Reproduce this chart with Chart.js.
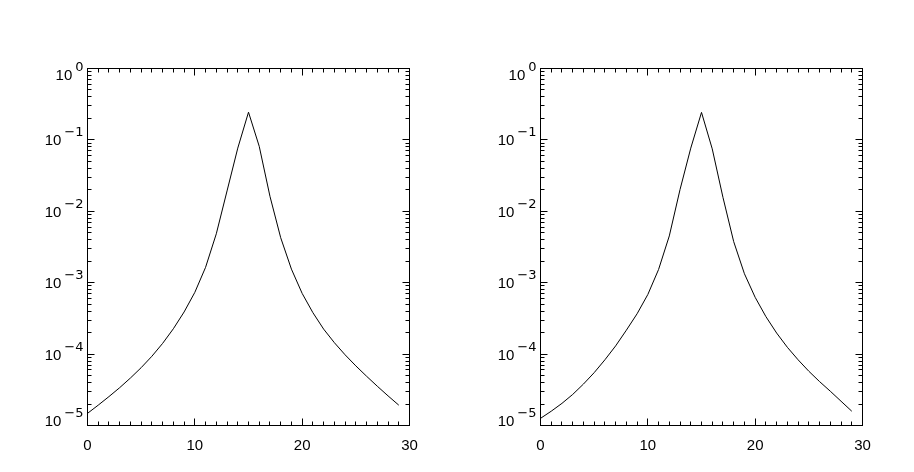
<!DOCTYPE html>
<html>
<head>
<meta charset="utf-8">
<script src="https://cdn.jsdelivr.net/npm/chart.js@4.4.1/dist/chart.umd.min.js"></script>
<style>
  body { margin: 0; background: #fff; }
  #wrap { position: relative; width: 914px; height: 472px; background: #fff; }
  canvas { position: absolute; top: 0; }
  #leftPlot { left: 0; }
  #rightPlot { left: 457px; }
</style>
</head>
<body>
<div id="wrap">
  <canvas id="leftPlot" width="457" height="472"></canvas>
  <canvas id="rightPlot" width="457" height="472"></canvas>
</div>
<script>
// x positions of the samples
const xValues = [0, 1, 2, 3, 4, 5, 6, 7, 8, 9, 10, 11, 12, 13, 14,
                 15, 16, 17, 18, 19, 20, 21, 22, 23, 24, 25, 26, 27, 28, 29];

// values
const leftValues = [1.479e-5, 1.928e-5, 2.541e-5, 3.388e-5, 4.624e-5, 6.457e-5, 9.333e-5, 1.413e-4, 2.265e-4, 3.890e-4,
                    7.328e-4, 1.641e-3, 4.842e-3, 1.928e-2, 7.674e-2, 0.2443, 8.128e-2, 1.622e-2, 4.266e-3, 1.549e-3,
                    7.079e-4, 3.802e-4, 2.239e-4, 1.445e-4, 9.772e-5, 6.839e-5, 4.898e-5, 3.548e-5, 2.600e-5, 1.928e-5];

// values
const rightValues = [1.259e-5, 1.585e-5, 2.042e-5, 2.723e-5, 3.802e-5, 5.495e-5, 8.318e-5, 1.303e-4, 2.163e-4, 3.673e-4,
                     6.839e-4, 1.531e-3, 4.519e-3, 2.018e-2, 7.674e-2, 0.2427, 7.499e-2, 1.567e-2, 3.758e-3, 1.334e-3,
                     6.237e-4, 3.350e-4, 1.972e-4, 1.245e-4, 8.318e-5, 5.754e-5, 4.121e-5, 3.020e-5, 2.188e-5, 1.585e-5];

// axis ticks
const xTickLabels = [0, 10, 20, 30];
const yDecades = [0, -1, -2, -3, -4, -5];

const BASE_FONT = '15px "Liberation Sans", Arial, sans-serif';
const EXP_FONT = '13px "DejaVu Sans", sans-serif';

// IDL style box: inward ticks on all four sides, 10^n labels
const idlAxes = {
    id: 'idlAxes',
    afterDraw(chart) {
        const c = chart.ctx;
        const area = chart.chartArea;
        const xs = chart.scales.x;
        const ys = chart.scales.y;
        c.save();
        c.strokeStyle = '#000';
        c.fillStyle = '#000';
        c.lineWidth = 1;

        // box
        c.strokeRect(area.left, area.top, area.right - area.left, area.bottom - area.top);

        c.beginPath();
        // x ticks, major every 10, minor every 1
        for (let v = xs.min; v <= xs.max; v++) {
            const px = Math.floor(xs.getPixelForValue(v)) + 0.5;
            const len = v % 10 === 0 ? 7 : 4;
            c.moveTo(px, area.bottom);
            c.lineTo(px, area.bottom - len);
            c.moveTo(px, area.top);
            c.lineTo(px, area.top + len);
        }
        // y ticks, major at decades, minor at 2..9
        yDecades.forEach(d => {
            const base = Math.pow(10, d);
            for (let k = 1; k <= 9; k++) {
                const v = base * k;
                if (v > ys.max * 1.0001) break;
                const py = Math.floor(ys.getPixelForValue(v)) + 0.5;
                const len = k === 1 ? 7 : 4;
                c.moveTo(area.left, py);
                c.lineTo(area.left + len, py);
                c.moveTo(area.right, py);
                c.lineTo(area.right - len, py);
            }
        });
        c.stroke();

        // x labels
        c.font = BASE_FONT;
        c.textAlign = 'center';
        c.textBaseline = 'alphabetic';
        xTickLabels.forEach(v => {
            c.fillText(String(v), xs.getPixelForValue(v), area.bottom + 24);
        });

        // y labels with superscript exponent
        const right = area.left - 4;
        c.textAlign = 'left';
        yDecades.forEach(d => {
            const py = ys.getPixelForValue(Math.pow(10, d));
            let baseline = py + 5.5;
            baseline = Math.max(baseline, area.top + 11);
            baseline = Math.min(baseline, area.bottom);
            const expText = d < 0 ? '\u2212' + (-d) : String(d);
            c.font = EXP_FONT;
            const expW = c.measureText(expText).width;
            c.font = BASE_FONT;
            const baseW = c.measureText('10').width;
            c.fillText('10', right - expW - baseW - 3, baseline);
            c.font = EXP_FONT;
            c.fillText(expText, right - expW, baseline - 9);
        });
        c.restore();
    }
};

function makePlot(canvasId, values, padLeft, padRight) {
    const points = xValues.map((x, i) => ({ x: x, y: values[i] }));
    return new Chart(document.getElementById(canvasId).getContext('2d'), {
        type: 'line',
        data: {
            datasets: [{
                data: points,
                borderColor: '#000',
                borderWidth: 1,
                pointRadius: 0,
                tension: 0,
                fill: false
            }]
        },
        options: {
            responsive: false,
            animation: false,
            layout: { padding: { left: padLeft, right: padRight, top: 68.5, bottom: 46.5 } },
            scales: {
                x: { type: 'linear', min: 0, max: 30, display: false },
                y: { type: 'logarithmic', min: 1e-5, max: 1, display: false }
            },
            plugins: {
                legend: { display: false },
                tooltip: { enabled: false }
            }
        },
        plugins: [idlAxes]
    });
}

makePlot('leftPlot', leftValues, 87.5, 47.5);
makePlot('rightPlot', rightValues, 83.5, 51.5);
</script>
</body>
</html>
